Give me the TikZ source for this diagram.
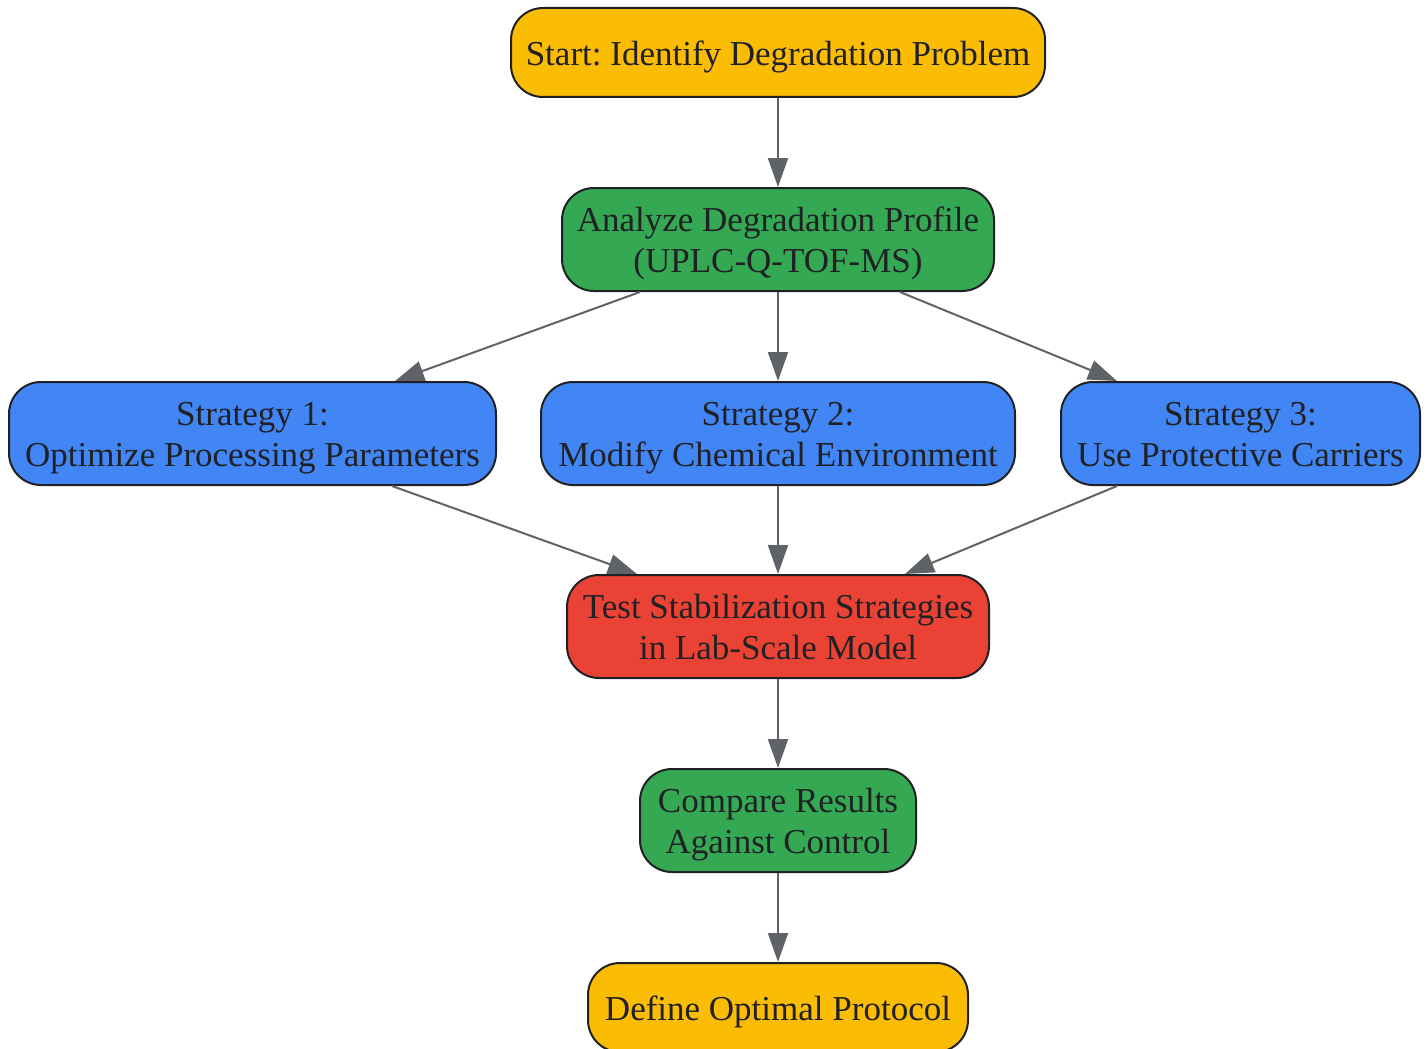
\documentclass[tikz,border=0pt]{standalone}
\usepackage{fontspec}
\setmainfont{Liberation Serif}
\usetikzlibrary{arrows.meta}
\definecolor{cyel}{HTML}{FBBC04}
\definecolor{cgrn}{HTML}{34A853}
\definecolor{cblu}{HTML}{4285F4}
\definecolor{cred}{HTML}{EA4335}
\definecolor{cedge}{HTML}{202124}
\definecolor{carr}{HTML}{5F6368}
\newcommand{\ls}{\rule[-7.8pt]{0pt}{41pt}}
\frenchspacing
\begin{document}
\begin{tikzpicture}[x=1pt,y=-1pt,
  box/.style={draw=cedge, line width=2pt, rounded corners=32pt, text=cedge,
    font=\fontsize{35}{41}\selectfont\frenchspacing, align=center, inner sep=0pt, minimum height=103pt},
  arr/.style={draw=carr, line width=2pt, -{Triangle[length=29pt,width=20pt]}}]
\useasboundingbox (0,0) rectangle (1428,1049);
\node[box, fill=cyel, minimum width=534pt, minimum height=89pt] (start) at (778,52.5) {\ls Start: Identify Degradation Problem};
\node[box, fill=cgrn, minimum width=432pt] (ana) at (778,239.5) {\ls Analyze Degradation Profile\\\ls (UPLC-Q-TOF-MS)};
\node[box, fill=cblu, minimum width=487pt] (s1) at (252.5,433.5) {\ls Strategy 1:\\\ls Optimize Processing Parameters};
\node[box, fill=cblu, minimum width=474pt] (s2) at (778,433.5) {\ls Strategy 2:\\\ls Modify Chemical Environment};
\node[box, fill=cblu, minimum width=359pt] (s3) at (1240.5,433.5) {\ls Strategy 3:\\\ls Use Protective Carriers};
\node[box, fill=cred, minimum width=422pt] (test) at (778,626.5) {\ls Test Stabilization Strategies\\\ls in Lab-Scale Model};
\node[box, fill=cgrn, minimum width=276pt] (comp) at (778,820.5) {\ls Compare Results\\\ls Against Control};
\node[box, fill=cyel, minimum width=380pt, minimum height=89pt] (def) at (778,1007.5) {\ls Define Optimal Protocol};
\draw[arr] (start.south) -- (ana.north);
\draw[arr] ([xshift=-138pt]ana.south) -- ([xshift=142.5pt]s1.north);
\draw[arr] (ana.south) -- (s2.north);
\draw[arr] ([xshift=122pt]ana.south) -- ([xshift=-123.5pt]s3.north);
\draw[arr] ([xshift=139.5pt]s1.south) -- ([xshift=-141pt]test.north);
\draw[arr] (s2.south) -- (test.north);
\draw[arr] ([xshift=-123.5pt]s3.south) -- ([xshift=127pt]test.north);
\draw[arr] (test.south) -- (comp.north);
\draw[arr] (comp.south) -- (def.north);
\end{tikzpicture}
\end{document}
